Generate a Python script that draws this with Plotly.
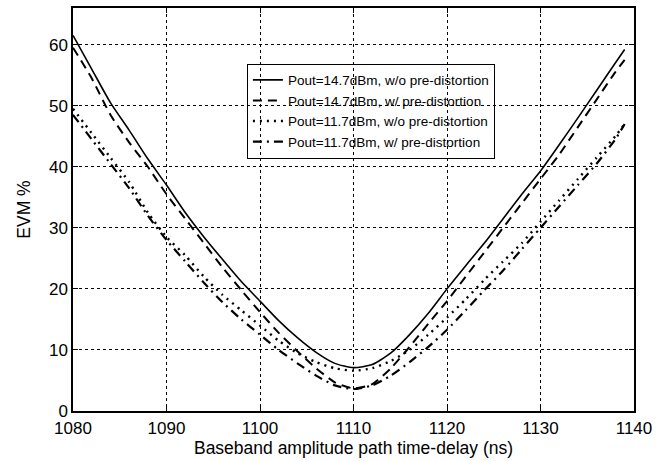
import plotly.graph_objects as go

x = [1080, 1082, 1084, 1086, 1088, 1090, 1092, 1094, 1096, 1098, 1100, 1102, 1104, 1106, 1108,
     1110, 1112, 1114, 1116, 1118, 1120, 1122, 1124, 1126, 1128, 1130, 1132, 1134, 1136, 1138, 1139]

evm_147_wo = [61.5, 56.0, 50.5, 46.0, 41.3, 37.0, 32.5, 28.5, 24.8, 21.2, 18.0, 14.8, 12.0, 9.6, 7.8,
              7.1, 7.6, 9.5, 12.5, 16.0, 20.0, 23.8, 27.5, 31.5, 35.5, 39.3, 43.6, 48.0, 52.5, 57.0, 59.2]
evm_147_w = [59.5, 54.5, 48.5, 44.0, 40.0, 35.5, 31.5, 27.5, 23.5, 19.8, 16.2, 12.8, 9.8, 7.0, 4.7,
             3.7, 4.4, 7.0, 10.5, 14.3, 18.0, 22.0, 26.0, 30.0, 34.0, 38.0, 42.0, 46.5, 51.0, 55.5, 57.5]
evm_117_wo = [49.5, 45.5, 41.5, 37.5, 32.5, 28.5, 25.5, 22.0, 19.0, 16.5, 14.0, 11.5, 9.5, 8.0, 7.0,
              6.6, 7.0, 8.2, 10.0, 12.5, 15.3, 18.3, 21.5, 24.5, 27.5, 31.0, 34.5, 38.0, 41.5, 45.0, 47.0]
evm_117_w = [48.5, 44.5, 40.5, 36.5, 32.0, 28.0, 24.5, 21.0, 17.8, 15.0, 12.5, 10.0, 7.8, 5.8, 4.2,
             3.6, 4.2, 5.8, 8.0, 10.5, 13.3, 16.5, 19.8, 23.0, 26.5, 30.0, 33.5, 37.0, 40.5, 44.5, 47.0]

names = ["Pout=14.7dBm, w/o pre-distortion", "Pout=14.7dBm, w/ pre-distortion",
         "Pout=11.7dBm, w/o pre-distortion", "Pout=11.7dBm, w/ pre-distortion"]
series = [evm_147_wo, evm_147_w, evm_117_wo, evm_117_w]
dashes = ["solid", "9px,6px", "2px,5px", "9px,5px,2px,5px"]
widths = [1.6, 2.0, 2.4, 2.2]

fig = go.Figure()
for n, s, d, w in zip(names, series, dashes, widths):
    fig.add_trace(go.Scatter(x=x, y=s, mode="lines", name=n, line_shape="spline",
                             line=dict(color="black", width=w, dash=d, smoothing=0.6)))

font = "Arial, Liberation Sans, sans-serif"
axis_common = dict(showline=True, linecolor="black", linewidth=1.5, mirror="ticks",
                   ticks="inside", ticklen=5, tickcolor="black",
                   showgrid=True, gridcolor="black", griddash="dot", gridwidth=1,
                   zeroline=False, tickfont=dict(size=17, color="black", family=font))

fig.update_layout(
    width=668, height=461,
    margin=dict(l=73, r=34, t=6, b=50),
    paper_bgcolor="white", plot_bgcolor="white",
    font=dict(family=font, color="black"),
    xaxis=dict(range=[1080, 1140], tickvals=[1080, 1090, 1100, 1110, 1120, 1130, 1140],
               ticklabelstandoff=1,
               title=dict(text="Baseband amplitude path time-delay (ns)", font=dict(size=17.5), standoff=0),
               **axis_common),
    yaxis=dict(range=[0, 66], tickvals=[0, 10, 20, 30, 40, 50, 60],
               title=dict(text="EVM %", font=dict(size=17.5), standoff=14),
               **axis_common),
    legend=dict(x=0.31, y=0.862, xanchor="left", yanchor="top",
                bgcolor="rgba(255,255,255,0)", bordercolor="black", borderwidth=1,
                font=dict(size=13.5, family=font, color="black"),
                tracegroupgap=0, itemwidth=30),
    showlegend=True,
)

fig.write_html("out.html")
